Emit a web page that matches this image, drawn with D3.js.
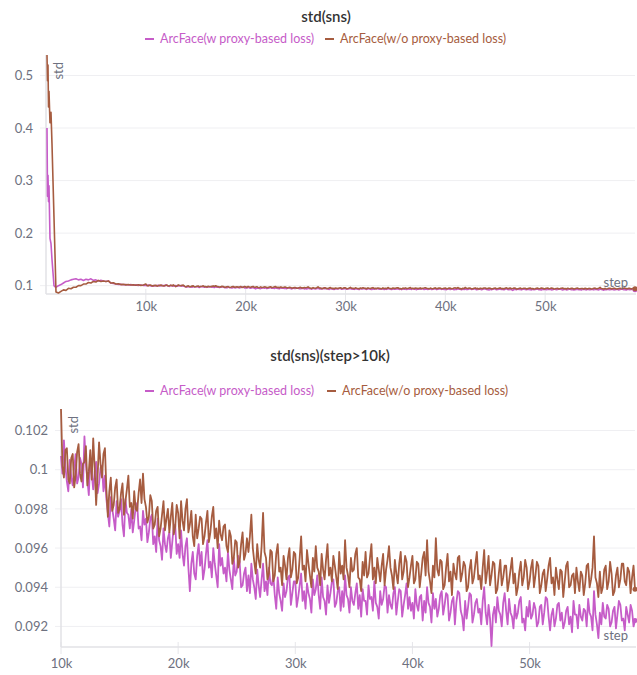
<!DOCTYPE html>
<html>
<head>
<meta charset="utf-8">
<script src="https://cdn.jsdelivr.net/npm/d3@7"></script>
<style>
  body { margin: 0; background: #fff; }
  svg { display: block; }
  text { font-family: Lato, "Open Sans", sans-serif; }
</style>
</head>
<body>
<svg id="chart" width="637" height="675"></svg>
<script>
// ---- data -------------------------------------------------------------
const seriesNames = ["ArcFace(w proxy-based loss)", "ArcFace(w/o proxy-based loss)"];
const seriesColors = ["#c65cc8", "#a65c40"];

// first logged steps, then every 250 steps up to 10k, then every 125 steps
const headSteps = [100, 150, 200, 250, 300, 400, 500, 600, 700, 800, 900];
const warmupSteps = d3.range(1000, 10000, 250);
const laterSteps = d3.range(10000, 59001, 125);
const steps = headSteps.concat(warmupSteps, laterSteps);

const withProxy = [
  // 100 .. 900
  0.40, 0.27, 0.31, 0.26, 0.29, 0.19, 0.18, 0.15, 0.125, 0.10, 0.098,
  // 1000 .. 9750
  0.097, 0.100, 0.102, 0.105, 0.108, 0.109, 0.111, 0.112,
  0.113, 0.111, 0.112, 0.110, 0.112, 0.111, 0.113, 0.110,
  0.111, 0.109, 0.110, 0.109, 0.108, 0.109, 0.105, 0.104,
  0.103, 0.1025, 0.1028, 0.1018, 0.1021, 0.1013, 0.1019, 0.1009,
  0.1015, 0.1005, 0.1012, 0.1002,
  // 10000 .. 59000
  0.1007, 0.0998, 0.1015, 0.1002, 0.0994, 0.0989, 0.1005, 0.0996, 0.0992, 0.1001, 0.1008, 0.0993, 0.0996, 0.1006, 0.1003, 0.0991,
  0.1017, 0.1003, 0.0995, 0.0987, 0.1006, 0.0998, 0.0990, 0.0999, 0.1004, 0.0988, 0.0993, 0.1001, 0.1002, 0.0989, 0.0997, 0.0985,
  0.0978, 0.0971, 0.0986, 0.0980, 0.0975, 0.0969, 0.0984, 0.0976, 0.0979, 0.0985, 0.0972, 0.0966, 0.0985, 0.0978, 0.0977, 0.0970,
  0.0980, 0.0968, 0.0974, 0.0981, 0.0983, 0.0970, 0.0971, 0.0964, 0.0979, 0.0972, 0.0975, 0.0963, 0.0968, 0.0975, 0.0977, 0.0962,
  0.0966, 0.0958, 0.0975, 0.0964, 0.0961, 0.0954, 0.0970, 0.0962, 0.0958, 0.0965, 0.0968, 0.0955, 0.0963, 0.0971, 0.0972, 0.0957,
  0.0962, 0.0955, 0.0969, 0.0957, 0.0951, 0.0961, 0.0965, 0.0950, 0.0938, 0.0952, 0.0958, 0.0947, 0.0944, 0.0956, 0.0962, 0.0951,
  0.0958, 0.0944, 0.0949, 0.0957, 0.0964, 0.0950, 0.0953, 0.0945, 0.0960, 0.0952, 0.0946, 0.0940, 0.0962, 0.0951, 0.0955, 0.0947,
  0.0950, 0.0943, 0.0958, 0.0949, 0.0944, 0.0939, 0.0955, 0.0946, 0.0948, 0.0956, 0.0953, 0.0940, 0.0941, 0.0947, 0.0950, 0.0938,
  0.0946, 0.0937, 0.0952, 0.0944, 0.0940, 0.0934, 0.0949, 0.0941, 0.0935, 0.0944, 0.0952, 0.0938, 0.0943, 0.0936, 0.0950, 0.0942,
  0.0941, 0.0946, 0.0936, 0.0929, 0.0945, 0.0937, 0.0933, 0.0928, 0.0942, 0.0935, 0.0938, 0.0945, 0.0946, 0.0931, 0.0937, 0.0943,
  0.0943, 0.0930, 0.0935, 0.0941, 0.0947, 0.0933, 0.0938, 0.0929, 0.0942, 0.0937, 0.0934, 0.0927, 0.0944, 0.0936, 0.0939, 0.0946,
  0.0936, 0.0929, 0.0945, 0.0935, 0.0933, 0.0926, 0.0941, 0.0932, 0.0937, 0.0943, 0.0944, 0.0930, 0.0932, 0.0938, 0.0940, 0.0928,
  0.0938, 0.0930, 0.0946, 0.0936, 0.0934, 0.0927, 0.0940, 0.0933, 0.0931, 0.0937, 0.0942, 0.0929, 0.0936, 0.0925, 0.0939, 0.0933,
  0.0933, 0.0926, 0.0941, 0.0934, 0.0935, 0.0928, 0.0943, 0.0932, 0.0930, 0.0924, 0.0938, 0.0931, 0.0934, 0.0941, 0.0940, 0.0927,
  0.0936, 0.0931, 0.0929, 0.0937, 0.0940, 0.0926, 0.0933, 0.0939, 0.0938, 0.0925, 0.0931, 0.0936, 0.0942, 0.0929, 0.0935, 0.0928,
  0.0932, 0.0924, 0.0939, 0.0931, 0.0928, 0.0935, 0.0936, 0.0923, 0.0933, 0.0927, 0.0940, 0.0932, 0.0930, 0.0922, 0.0937, 0.0929,
  0.0934, 0.0925, 0.0929, 0.0936, 0.0938, 0.0926, 0.0931, 0.0937, 0.0936, 0.0923, 0.0927, 0.0933, 0.0935, 0.0921, 0.0932, 0.0938,
  0.0937, 0.0928, 0.0925, 0.0918, 0.0933, 0.0924, 0.0930, 0.0937, 0.0936, 0.0922, 0.0926, 0.0932, 0.0934, 0.0927, 0.0929, 0.0921,
  0.0933, 0.0940, 0.0927, 0.0921, 0.0931, 0.0924, 0.0910, 0.0926, 0.0930, 0.0922, 0.0935, 0.0928, 0.0926, 0.0920, 0.0932, 0.0937,
  0.0928, 0.0921, 0.0934, 0.0927, 0.0925, 0.0919, 0.0931, 0.0924, 0.0927, 0.0933, 0.0935, 0.0922, 0.0924, 0.0918, 0.0930, 0.0925,
  0.0933, 0.0924, 0.0926, 0.0932, 0.0929, 0.0920, 0.0922, 0.0930, 0.0931, 0.0921, 0.0927, 0.0935, 0.0934, 0.0925, 0.0918, 0.0926,
  0.0929, 0.0920, 0.0924, 0.0931, 0.0932, 0.0923, 0.0927, 0.0919, 0.0922, 0.0928, 0.0930, 0.0921, 0.0925, 0.0917, 0.0933, 0.0926,
  0.0926, 0.0919, 0.0931, 0.0925, 0.0923, 0.0929, 0.0928, 0.0920, 0.0934, 0.0927, 0.0925, 0.0918, 0.0938, 0.0926, 0.0921, 0.0914,
  0.0927, 0.0921, 0.0932, 0.0925, 0.0924, 0.0931, 0.0929, 0.0920, 0.0922, 0.0928, 0.0930, 0.0919, 0.0926, 0.0933, 0.0931, 0.0923,
  0.0924, 0.0918, 0.0930, 0.0926, 0.0922, 0.0931, 0.0928, 0.0920, 0.0923
];

const withoutProxy = [
  // 100 .. 900
  0.539, 0.49, 0.52, 0.44, 0.47, 0.41, 0.43, 0.37, 0.30, 0.23, 0.16,
  // 1000 .. 9750
  0.088, 0.086, 0.089, 0.092, 0.091, 0.095, 0.094, 0.097,
  0.097, 0.100, 0.100, 0.103, 0.103, 0.106, 0.105, 0.108,
  0.107, 0.110, 0.108, 0.109, 0.108, 0.109, 0.105, 0.1055,
  0.103, 0.1035, 0.102, 0.1025, 0.1015, 0.1022, 0.1012, 0.1018,
  0.1008, 0.1016, 0.1005, 0.1012,
  // 10000 .. 59000
  0.1031, 0.1002, 0.0996, 0.1010, 0.1011, 0.0995, 0.0993, 0.1006, 0.1008, 0.0991, 0.0997, 0.1009, 0.1013, 0.0998, 0.0994, 0.1003,
  0.1004, 0.1012, 0.0992, 0.0999, 0.1010, 0.0995, 0.1016, 0.1001, 0.0982, 0.0997, 0.1014, 0.1003, 0.0996, 0.1008, 0.1011, 0.0990,
  0.0976, 0.0989, 0.0996, 0.0979, 0.0982, 0.0991, 0.0995, 0.0978, 0.0980, 0.0988, 0.0993, 0.0977, 0.0984, 0.0990, 0.0997, 0.0981,
  0.0983, 0.0975, 0.0989, 0.0980, 0.0979, 0.0988, 0.0995, 0.0983, 0.0998, 0.0985, 0.0981, 0.0973, 0.0976, 0.0987, 0.0984, 0.0970,
  0.0972, 0.0979, 0.0981, 0.0966, 0.0970, 0.0977, 0.0984, 0.0969, 0.0975, 0.0980, 0.0968, 0.0976, 0.0983, 0.0967, 0.0971, 0.0982,
  0.0978, 0.0965, 0.0984, 0.0974, 0.0969, 0.0980, 0.0985, 0.0968, 0.0972, 0.0979, 0.0966, 0.0961, 0.0977, 0.0965, 0.0970, 0.0976,
  0.0975, 0.0962, 0.0966, 0.0973, 0.0979, 0.0963, 0.0968, 0.0976, 0.0981, 0.0965, 0.0970, 0.0960, 0.0974, 0.0967, 0.0964, 0.0971,
  0.0972, 0.0961, 0.0958, 0.0969, 0.0966, 0.0952, 0.0955, 0.0964, 0.0963, 0.0950, 0.0953, 0.0962, 0.0968, 0.0954, 0.0957, 0.0965,
  0.0958, 0.0966, 0.0977, 0.0960, 0.0953, 0.0947, 0.0962, 0.0954, 0.0950, 0.0961, 0.0978, 0.0958, 0.0955, 0.0944, 0.0947, 0.0959,
  0.0958, 0.0943, 0.0946, 0.0957, 0.0962, 0.0948, 0.0950, 0.0941, 0.0956, 0.0951, 0.0944, 0.0955, 0.0960, 0.0945, 0.0949, 0.0958,
  0.0957, 0.0942, 0.0945, 0.0955, 0.0966, 0.0949, 0.0951, 0.0943, 0.0959, 0.0952, 0.0946, 0.0940, 0.0955, 0.0948, 0.0961, 0.0950,
  0.0948, 0.0941, 0.0957, 0.0949, 0.0944, 0.0954, 0.0962, 0.0946, 0.0950, 0.0943, 0.0956, 0.0951, 0.0945, 0.0939, 0.0958, 0.0947,
  0.0951, 0.0944, 0.0964, 0.0950, 0.0946, 0.0940, 0.0955, 0.0948, 0.0949, 0.0957, 0.0960, 0.0945, 0.0944, 0.0938, 0.0953, 0.0946,
  0.0958, 0.0945, 0.0947, 0.0955, 0.0962, 0.0944, 0.0950, 0.0942, 0.0955, 0.0949, 0.0943, 0.0951, 0.0957, 0.0941, 0.0949, 0.0954,
  0.0961, 0.0950, 0.0946, 0.0939, 0.0954, 0.0947, 0.0942, 0.0952, 0.0958, 0.0944, 0.0948, 0.0956, 0.0953, 0.0940, 0.0945, 0.0951,
  0.0956, 0.0942, 0.0944, 0.0953, 0.0952, 0.0940, 0.0947, 0.0955, 0.0958, 0.0946, 0.0964, 0.0948, 0.0943, 0.0937, 0.0951, 0.0945,
  0.0965, 0.0949, 0.0946, 0.0954, 0.0953, 0.0939, 0.0941, 0.0950, 0.0957, 0.0943, 0.0948, 0.0936, 0.0952, 0.0947, 0.0944, 0.0955,
  0.0956, 0.0943, 0.0947, 0.0953, 0.0951, 0.0938, 0.0940, 0.0949, 0.0954, 0.0942, 0.0945, 0.0952, 0.0958, 0.0944, 0.0946, 0.0939,
  0.0950, 0.0959, 0.0942, 0.0948, 0.0956, 0.0941, 0.0946, 0.0953, 0.0952, 0.0937, 0.0939, 0.0947, 0.0954, 0.0941, 0.0945, 0.0951,
  0.0951, 0.0938, 0.0943, 0.0949, 0.0955, 0.0942, 0.0947, 0.0936, 0.0940, 0.0948, 0.0953, 0.0941, 0.0945, 0.0954, 0.0950, 0.0939,
  0.0943, 0.0950, 0.0954, 0.0940, 0.0946, 0.0953, 0.0951, 0.0937, 0.0941, 0.0947, 0.0949, 0.0938, 0.0944, 0.0951, 0.0955, 0.0942,
  0.0945, 0.0936, 0.0950, 0.0944, 0.0939, 0.0949, 0.0948, 0.0935, 0.0943, 0.0951, 0.0953, 0.0940, 0.0941, 0.0946, 0.0947, 0.0937,
  0.0950, 0.0943, 0.0938, 0.0948, 0.0946, 0.0936, 0.0942, 0.0951, 0.0952, 0.0940, 0.0944, 0.0950, 0.0966, 0.0945, 0.0942, 0.0935,
  0.0948, 0.0937, 0.0940, 0.0949, 0.0951, 0.0939, 0.0943, 0.0953, 0.0947, 0.0936, 0.0938, 0.0946, 0.0950, 0.0940, 0.0944, 0.0952,
  0.0952, 0.0943, 0.0941, 0.0950, 0.0948, 0.0937, 0.0945, 0.0951, 0.0939
];

const xTickValues = [10000, 20000, 30000, 40000, 50000];
const xTickLabels = ["10k", "20k", "30k", "40k", "50k"];
const yTicksFull = [0.1, 0.2, 0.3, 0.4, 0.5];
const yLabelsFull = ["0.1", "0.2", "0.3", "0.4", "0.5"];
const yTicksZoom = [0.092, 0.094, 0.096, 0.098, 0.1, 0.102];
const yLabelsZoom = ["0.092", "0.094", "0.096", "0.098", "0.1", "0.102"];

// ---- drawing ----------------------------------------------------------
const svg = d3.select("#chart");
const allSeries = [withProxy, withoutProxy].map((vals, i) => ({
  name: seriesNames[i],
  color: seriesColors[i],
  points: steps.map((s, j) => ({ step: s, value: vals[j] })).filter(p => p.value !== undefined)
}));

function panel(opt) {
  const g = svg.append("g");
  const series = allSeries.map(s => ({ ...s, points: s.points.filter(p => p.step >= opt.minStep) }));
  const values = series.flatMap(s => s.points.map(p => p.value));
  const x = d3.scaleLinear().domain([opt.xStart, 59000]).range([opt.left, 635]);
  const y = d3.scaleLinear().domain(d3.extent(values)).range([opt.bottom, opt.top]);

  // title
  g.append("text").attr("x", opt.titleX).attr("y", opt.titleY)
    .attr("text-anchor", "middle").attr("font-size", 15).attr("font-weight", 600)
    .attr("fill", "#333").text(opt.title);

  // legend
  const lg = g.append("g").attr("transform", `translate(0,${opt.legendY})`);
  const legendX = [145, opt.legendX2];
  series.forEach((s, i) => {
    lg.append("line").attr("x1", legendX[i]).attr("x2", legendX[i] + 9)
      .attr("y1", 0).attr("y2", 0).attr("stroke", s.color).attr("stroke-width", 2);
    lg.append("text").attr("x", legendX[i] + 15).attr("y", 4)
      .attr("font-size", 12.5).attr("fill", s.color).text(s.name);
  });

  // horizontal grid + y tick labels
  const yAxis = d3.axisLeft(y).tickValues(opt.yTicks).tickSize(0)
    .tickFormat((d, i) => opt.yLabels[i]);
  const ya = g.append("g").attr("transform", `translate(${opt.left - 10},0)`).call(yAxis);
  ya.select(".domain").remove();
  ya.selectAll("text").attr("font-size", 13).attr("fill", "#6e7180")
    .attr("font-family", "Lato, sans-serif");
  g.append("g").selectAll("line").data(opt.yTicks).join("line")
    .attr("x1", opt.left - 6).attr("x2", 635)
    .attr("y1", d => y(d)).attr("y2", d => y(d))
    .attr("stroke", "#efeff2").attr("stroke-width", 1);

  // x axis
  const xAxis = d3.axisBottom(x).tickValues(xTickValues).tickSize(0)
    .tickFormat((d, i) => xTickLabels[i]).tickPadding(opt.xPad);
  const xa = g.append("g").attr("transform", `translate(0,${opt.bottom + 1})`).call(xAxis);
  xa.select(".domain").remove();
  xa.selectAll("text").attr("font-size", 13).attr("fill", "#6e7180")
    .attr("font-family", "Lato, sans-serif");
  g.append("g").selectAll("line").data(xTickValues).join("line")
    .attr("x1", d => x(d)).attr("x2", d => x(d))
    .attr("y1", opt.bottom - 4).attr("y2", opt.bottom + 8)
    .attr("stroke", "#e6e6ea").attr("stroke-width", 1);

  // axis lines
  g.append("line").attr("x1", opt.left).attr("x2", opt.left)
    .attr("y1", opt.top).attr("y2", opt.bottom + 1)
    .attr("stroke", "#e2e2e6").attr("stroke-width", 1.5);
  g.append("line").attr("x1", opt.left).attr("x2", 636)
    .attr("y1", opt.bottom + 1).attr("y2", opt.bottom + 1)
    .attr("stroke", "#e2e2e6").attr("stroke-width", 1.5);

  // series lines
  const line = d3.line().x(p => x(p.step)).y(p => y(p.value));
  series.forEach(s => {
    g.append("path").datum(s.points).attr("d", line)
      .attr("fill", "none").attr("stroke", s.color)
      .attr("stroke-width", opt.lineWidth).attr("stroke-linejoin", "round");
  });
  series.forEach(s => {
    const last = s.points[s.points.length - 1];
    g.append("circle").attr("cx", x(last.step)).attr("cy", y(last.value))
      .attr("r", 2.5).attr("fill", s.color);
  });

  // axis names
  g.append("text").attr("transform", `translate(${opt.left + 17},${opt.top + 7}) rotate(-90)`)
    .attr("text-anchor", "end").attr("font-size", 13).attr("fill", "#6e7180").text("std");
  g.append("text").attr("x", 628).attr("y", opt.bottom - 6)
    .attr("text-anchor", "end").attr("font-size", 13).attr("fill", "#6e7180").text("step");
}

panel({
  title: "std(sns)", titleX: 326, titleY: 22, legendY: 39, legendX2: 325,
  minStep: 0, xStart: 0, left: 46, top: 55, bottom: 293, xPad: 8,
  yTicks: yTicksFull, yLabels: yLabelsFull, lineWidth: 1.6
});
panel({
  title: "std(sns)(step>10k)", titleX: 330, titleY: 361, legendY: 391, legendX2: 327,
  minStep: 10000, xStart: 10000, left: 61, top: 409, bottom: 646, xPad: 12,
  yTicks: yTicksZoom, yLabels: yLabelsZoom, lineWidth: 1.8
});
</script>
</body>
</html>
